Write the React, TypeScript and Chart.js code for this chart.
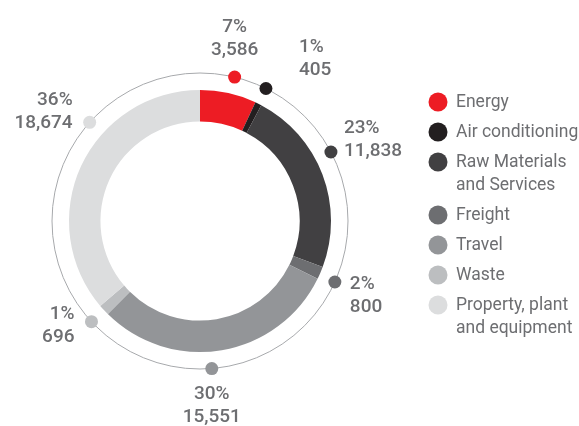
import React, { useEffect, useRef } from "react";
import { Chart, registerables } from "chart.js";

Chart.register(...registerables);

const categories = [
  "Energy",
  "Air conditioning",
  "Raw Materials and Services",
  "Freight",
  "Travel",
  "Waste",
  "Property, plant and equipment",
];
const legendLines = [
  ["Energy"],
  ["Air conditioning"],
  ["Raw Materials", "and Services"],
  ["Freight"],
  ["Travel"],
  ["Waste"],
  ["Property, plant", "and equipment"],
];
const emissions = [3586, 405, 11838, 800, 15551, 696, 18674];
const percentLabels = ["7%", "1%", "23%", "2%", "30%", "1%", "36%"];
const valueLabels = ["3,586", "405", "11,838", "800", "15,551", "696", "18,674"];
const colors = ["#ED1C24", "#231F20", "#414042", "#6D6E71", "#939598", "#BCBEC0", "#DCDDDE"];

// style: angular nudge of each marker dot (degrees) and label placement relative to the dot
const dotNudge = [1, 0, -7, 1, 5, 0, 17];
const labelPlace = [
  { align: "center", dx: 0, dy: -50 },
  { align: "left", dx: 33, dy: -41 },
  { align: "left", dx: 13, dy: -24 },
  { align: "left", dx: 15, dy: 2 },
  { align: "center", dx: 0, dy: 26 },
  { align: "right", dx: -17, dy: -7 },
  { align: "right", dx: -17, dy: -22 },
];

const TEXT = "#6D6E71";

const annotatePlugin = {
  id: "annotate",
  afterDatasetsDraw(chart: any) {
    const ctx = chart.ctx;
    const meta = chart.getDatasetMeta(0);
    const arcs = meta.data;
    if (!arcs.length) return;
    const cx = arcs[0].x;
    const cy = arcs[0].y;
    const outer = arcs[0].outerRadius;
    const ringR = outer + 17;
    ctx.save();
    ctx.beginPath();
    ctx.arc(cx, cy, ringR, 0, Math.PI * 2);
    ctx.strokeStyle = "#A7A9AC";
    ctx.lineWidth = 1;
    ctx.stroke();

    arcs.forEach((arc: any, i: number) => {
      const mid = (arc.startAngle + arc.endAngle) / 2 + (dotNudge[i] * Math.PI) / 180;
      const x = cx + Math.cos(mid) * ringR;
      const y = cy + Math.sin(mid) * ringR;
      ctx.beginPath();
      ctx.arc(x, y, 6.5, 0, Math.PI * 2);
      ctx.fillStyle = colors[i];
      ctx.fill();

      const p = labelPlace[i];
      ctx.font = "500 19px Roboto";
      ctx.fillStyle = TEXT;
      ctx.textAlign = p.align as CanvasTextAlign;
      ctx.textBaseline = "middle";
      ctx.fillText(percentLabels[i], x + p.dx, y + p.dy);
      ctx.fillText(valueLabels[i], x + p.dx, y + p.dy + 23);
    });

    // legend
    const lx = 438;
    const tx = 456;
    let ly = 102;
    ctx.textAlign = "left";
    ctx.textBaseline = "middle";
    ctx.font = "400 17.5px Roboto";
    legendLines.forEach((lines, i) => {
      ctx.beginPath();
      ctx.arc(lx, ly, 9.5, 0, Math.PI * 2);
      ctx.fillStyle = colors[i];
      ctx.fill();
      ctx.fillStyle = TEXT;
      lines.forEach((t, j) => ctx.fillText(t, tx, ly + 1 + j * 23));
      ly += (lines.length - 1) * 23 + 30;
    });
    ctx.restore();
  },
};

export default function App() {
  const ref = useRef<HTMLCanvasElement | null>(null);
  useEffect(() => {
    if (!ref.current) return;
    const chart = new Chart(ref.current, {
      type: "doughnut",
      data: {
        labels: categories,
        datasets: [
          {
            data: emissions,
            backgroundColor: colors,
            borderWidth: 0,
          },
        ],
      },
      options: {
        responsive: false,
        animation: false,
        cutout: "76%",
        layout: { padding: { left: 69, top: 90, right: 248, bottom: 74 } },
        plugins: {
          legend: { display: false },
          tooltip: { enabled: false },
        },
      },
      plugins: [annotatePlugin],
    });
    return () => chart.destroy();
  }, []);
  return (
    <div style={{ position: "absolute", left: 0, top: 0, width: 579, height: 426, background: "#fff" }}>
      <canvas ref={ref} width={579} height={426} />
    </div>
  );
}
